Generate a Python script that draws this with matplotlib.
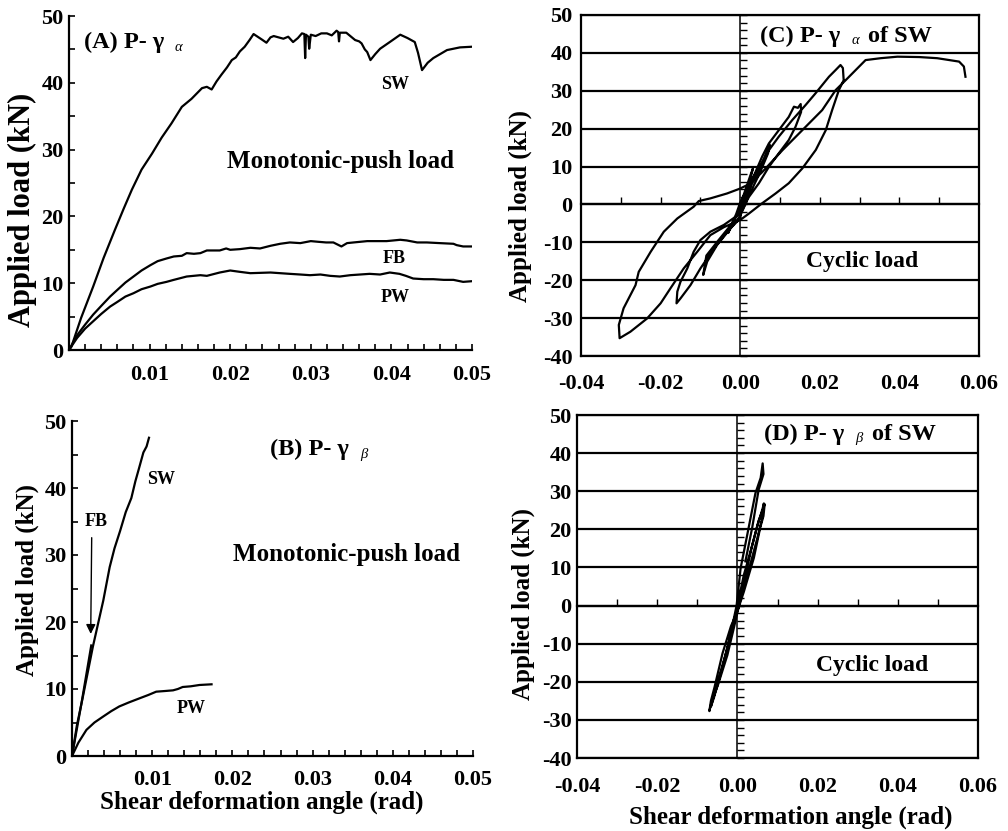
import matplotlib
matplotlib.use('Agg')
import matplotlib.pyplot as plt
from matplotlib.ticker import MultipleLocator

plt.rcParams['font.family'] = ['Liberation Serif', 'DejaVu Serif']
plt.rcParams['font.weight'] = 'bold'
plt.rcParams['axes.labelweight'] = 'bold'

# ---------------- data ----------------
# Panel A : P - gamma_alpha, monotonic push
a_sw_x = [0, 0.0003, 0.0015, 0.003, 0.0043, 0.0057, 0.0068, 0.0078, 0.009, 0.0103, 0.0115, 0.0127,
          0.014, 0.0152, 0.0165, 0.0171, 0.0177, 0.0183, 0.0189, 0.0196, 0.0202, 0.0207, 0.0212,
          0.0218, 0.0224, 0.0229, 0.0234, 0.0239, 0.0245, 0.025, 0.0254, 0.026, 0.0266, 0.0272,
          0.0278, 0.0284, 0.0289, 0.0292, 0.0293, 0.0294, 0.0297, 0.0298, 0.0300, 0.0306, 0.0313,
          0.032, 0.0326, 0.0332, 0.0334, 0.0335, 0.0336, 0.0344, 0.035, 0.0355, 0.036, 0.0363,
          0.0367, 0.037, 0.0374, 0.038, 0.0386, 0.0398, 0.0411, 0.042, 0.0429, 0.0433, 0.0438,
          0.0445, 0.0452, 0.0469, 0.0485, 0.05]
a_sw_y = [0, 0.5, 4.8, 9.5, 13.8, 18.0, 21.2, 24.0, 27.0, 29.4, 31.8, 33.9,
          36.4, 37.6, 39.2, 39.4, 39.0, 40.2, 41.2, 42.3, 43.4, 43.8, 44.7,
          45.4, 46.4, 47.3, 46.9, 46.5, 46.0, 46.8, 47.0, 46.8, 46.6, 46.9,
          46.1, 46.7, 47.4, 47.3, 43.7, 47.2, 46.9, 45.1, 47.2, 47.0, 47.4,
          47.4, 47.1, 47.8, 47.6, 46.2, 47.5, 47.5, 46.9, 46.4, 46.2, 45.9,
          45.0, 44.6, 43.4, 44.3, 45.1, 46.1, 47.2, 46.7, 46.1, 44.5, 41.9,
          43.0, 43.7, 44.9, 45.3, 45.4]

a_fb_x = [0, 0.001, 0.002, 0.003, 0.004, 0.0051, 0.006, 0.007, 0.008, 0.009, 0.0101, 0.011,
          0.0121, 0.013, 0.014, 0.0146, 0.0155, 0.0163, 0.0171, 0.0187, 0.0195, 0.020, 0.0212,
          0.0225, 0.0237, 0.025, 0.0262, 0.0274, 0.0287, 0.030, 0.0309, 0.0319, 0.0328, 0.0338,
          0.0345, 0.0353, 0.037, 0.0394, 0.0411, 0.0419, 0.0432, 0.0444, 0.046, 0.0477, 0.0481,
          0.0489, 0.05]
a_fb_y = [0, 2.2, 3.8, 5.3, 6.6, 8.0, 9.0, 10.1, 11.0, 11.9, 12.7, 13.3,
          13.7, 14.0, 14.1, 14.5, 14.4, 14.5, 14.9, 14.9, 15.2, 15.0, 15.1,
          15.3, 15.2, 15.6, 15.9, 16.1, 16.0, 16.3, 16.2, 16.1, 16.1, 15.5,
          16.0, 16.1, 16.3, 16.3, 16.5, 16.4, 16.1, 16.1, 16.0, 15.9, 15.7,
          15.5, 15.5]

a_pw_x = [0, 0.001, 0.002, 0.003, 0.004, 0.0051, 0.006, 0.007, 0.008, 0.009, 0.0101, 0.011,
          0.0121, 0.013, 0.0146, 0.0163, 0.0171, 0.0187, 0.020, 0.0212, 0.0225, 0.025, 0.0262,
          0.0274, 0.0287, 0.0299, 0.0312, 0.0324, 0.0336, 0.0349, 0.0361, 0.0373, 0.0386,
          0.0398, 0.041, 0.0418, 0.0427, 0.044, 0.0452, 0.0465, 0.0477, 0.0489, 0.05]
a_pw_y = [0, 1.8, 3.2, 4.3, 5.4, 6.5, 7.2, 8.0, 8.5, 9.1, 9.5, 9.9,
          10.2, 10.5, 11.0, 11.2, 11.1, 11.6, 11.9, 11.7, 11.5, 11.6, 11.5,
          11.4, 11.3, 11.2, 11.3, 11.1, 11.0, 11.2, 11.3, 11.4, 11.3,
          11.6, 11.4, 11.1, 10.7, 10.6, 10.6, 10.5, 10.5, 10.2, 10.3]

# Panel B : P - gamma_beta, monotonic push
b_sw_x = [0, 0.0006, 0.0013, 0.0026, 0.0039, 0.0047, 0.0053, 0.006, 0.0067, 0.0074, 0.0079,
          0.0083, 0.0089, 0.0093, 0.0096]
b_sw_y = [0, 4.5, 8.5, 16.3, 23.2, 28.2, 31.0, 33.6, 36.4, 38.5, 41.0, 42.7, 45.3, 46.2, 47.5]
b_fb_x = [0, 0.0012, 0.0024]
b_fb_y = [0, 8.0, 16.5]
b_pw_x = [0, 0.0008, 0.0018, 0.0028, 0.0039, 0.0049, 0.0059, 0.0071, 0.0084, 0.0095, 0.0105,
          0.0116, 0.0126, 0.0132, 0.0138, 0.0148, 0.0159, 0.0174]
b_pw_y = [0, 2.0, 3.9, 5.0, 5.9, 6.7, 7.4, 8.0, 8.6, 9.1, 9.6, 9.7, 9.8, 10.0, 10.3, 10.4, 10.6, 10.7]

# Panel C : cyclic P - gamma_alpha of SW
c_x = [0, 0.0012, 0.0025, 0.0032, 0.0025, 0.001, -0.0005, -0.002, -0.003, -0.0022, -0.001, 0.0,
       0.0015, 0.0035, 0.0055, 0.0068, 0.0074, 0.0070, 0.005, 0.0025, 0.0, -0.0024, -0.0055,
       -0.0085, -0.0093, -0.0083, -0.0058, -0.0024, 0.0,
       0.0015, 0.003, 0.0055, 0.0072, 0.0097, 0.0122, 0.0135, 0.0145, 0.0152, 0.0153, 0.0139,
       0.0122, 0.0097, 0.0072, 0.0047, 0.0022, 0.0, -0.0041, -0.0075, -0.010, -0.0117, -0.0133,
       -0.015, -0.0158, -0.016, -0.015, -0.0125, -0.010, -0.0066, -0.0033, 0.0,
       0.0005, 0.003, 0.0055, 0.0072, 0.0097, 0.0131, 0.0164, 0.0189, 0.0223, 0.0240, 0.0252,
       0.0258, 0.0260, 0.0248, 0.0231, 0.0215, 0.019, 0.0156, 0.0122, 0.0089, 0.0055, 0.0022, 0.0,
       -0.0041, -0.0075, -0.0108, -0.0142, -0.0175, -0.020, -0.0234, -0.0276, -0.0303,
       -0.0305, -0.0293, -0.0263, -0.0255, -0.0225, -0.0192, -0.0158, -0.0117, -0.0104,
       -0.0075, -0.0033, 0.0,
       0.0025, 0.0055, 0.0106, 0.0156, 0.0206, 0.024, 0.0265, 0.0298, 0.0315, 0.0353,
       0.0395, 0.045, 0.0495, 0.055, 0.0562, 0.0566]
c_y = [0, 3.5, 7.5, 9.5, 6.5, 2.0, -2.0, -5.0, -7.5, -5.5, -2.5, 0.5,
       3.5, 7.5, 11.0, 14.0, 15.8, 13.5, 8.5, 3.0, -1.5, -5.5, -9.5,
       -13.5, -18.6, -15.1, -10.7, -6.3, -3.0,
       0.5, 6.5, 12.6, 16.1, 19.6, 23.1, 25.8, 25.5, 26.5, 24.4, 20.5,
       17.0, 13.5, 9.9, 5.6, 2.0, -2.4, -5.4, -7.2, -9.4, -12.5, -16.9,
       -20.4, -23.0, -26.1, -24.8, -21.3, -16.9, -11.6, -7.2, -3.7,
       0.3, 5.6, 10.8, 14.3, 17.9, 22.3, 26.2, 29.3, 33.7, 35.5, 36.8,
       36.0, 32.8, 30.2, 24.9, 19.6, 14.4, 9.5, 5.6, 2.9, 0.3, -2.4, -4.1,
       -6.0, -8.1, -12.5, -16.9, -22.1, -26.1, -30.1, -33.6, -35.3,
       -31.8, -27.4, -21.3, -17.8, -12.5, -7.2, -3.7, -0.6, 0.9,
       1.6, 2.9, 4.2,
       5.5, 8.5, 14.3, 19.6, 24.9, 30.2, 32.8, 36.3, 38.1, 38.6,
       39.0, 38.9, 38.6, 37.7, 36.4, 33.7]

# Panel D : cyclic P - gamma_beta of SW
d_x = [0, 0.0008, 0.0016, 0.0033, 0.0053, 0.0063, 0.0068, 0.0065, 0.0057, 0.0041, 0.0016, 0.0,
       -0.0016, -0.0037, -0.0057, -0.0066, -0.0070, -0.0062, -0.0049, -0.0025, -0.0008, 0.0005,
       0.0018, 0.0035, 0.005, 0.0063, 0.0066, 0.0062, 0.0048, 0.003, 0.001, -0.001, -0.003,
       -0.005, -0.0066, -0.0058, -0.0042, -0.002, -0.0002, 0.0008, 0.0025, 0.0045, 0.0058,
       0.0063, 0.0065, 0.0053, 0.0037, 0.002]
d_y = [0, 4.0, 8.0, 14.3, 22.3, 25.0, 26.6, 23.5, 20.5, 12.5, 3.6, -1.5,
       -5.4, -12.5, -21.4, -25.0, -27.7, -24.5, -21.0, -13.0, -5.5, 0.5,
       7.0, 15.0, 21.0, 25.5, 26.8, 23.0, 17.0, 10.0, 2.5, -5.0, -13.0,
       -20.5, -26.5, -24.0, -18.0, -9.0, 0.0, 9.8, 18.8, 29.5, 33.5,
       37.3, 34.5, 30.4, 20.5, 11.6]

mono_xticks = [0.01, 0.02, 0.03, 0.04, 0.05]
mono_xlabels = ['0.01', '0.02', '0.03', '0.04', '0.05']
mono_yticks = [0, 10, 20, 30, 40, 50]
cyc_xticks = [-0.04, -0.02, 0.0, 0.02, 0.04, 0.06]
cyc_xlabels = ['-0.04', '-0.02', '0.00', '0.02', '0.04', '0.06']
cyc_yticks = [-40, -30, -20, -10, 0, 10, 20, 30, 40, 50]
cyc_ylabels = ['-40', '-30', '-20', '-10', '0', '10', '20', '30', '40', '50']

# ---------------- figure ----------------
W, H = 1008, 831
fig = plt.figure(figsize=(W / 100, H / 100), dpi=100)


def px_axes(l, t, r, b):
    return fig.add_axes([l / W, 1 - b / H, (r - l) / W, (b - t) / H])


LW = 1.6
TICK_FS = 16


def style_mono(ax, xpad):
    ax.set_xlim(0, 0.05)
    ax.set_ylim(0, 50)
    for s in ['top', 'right']:
        ax.spines[s].set_visible(False)
    for s in ['left', 'bottom']:
        ax.spines[s].set_linewidth(1.6)
    ax.set_xticks(mono_xticks)
    ax.set_xticklabels(mono_xlabels)
    ax.xaxis.set_minor_locator(MultipleLocator(0.002))
    ax.set_yticks(mono_yticks)
    ax.yaxis.set_minor_locator(MultipleLocator(5))
    ax.tick_params(which='both', direction='in', length=4, width=1.2, labelsize=TICK_FS)
    ax.tick_params(axis='x', pad=xpad)
    ax.tick_params(axis='y', pad=4)
    for lab in ax.get_xticklabels() + ax.get_yticklabels():
        lab.set_fontweight('bold')


def style_cyc(ax, xpad, ypad):
    ax.set_xlim(-0.04, 0.06)
    ax.set_ylim(-40, 50)
    for s in ax.spines.values():
        s.set_linewidth(1.6)
    ax.set_xticks(cyc_xticks)
    ax.set_xticklabels(cyc_xlabels)
    ax.set_yticks(cyc_yticks)
    ax.set_yticklabels(cyc_ylabels)
    ax.tick_params(length=0, labelsize=TICK_FS)
    ax.tick_params(axis='x', pad=xpad)
    ax.tick_params(axis='y', pad=ypad)
    ax.yaxis.grid(True, color='black', linewidth=1.6)
    ax.set_axisbelow(True)
    for lab in ax.get_xticklabels() + ax.get_yticklabels():
        lab.set_fontweight('bold')
    # cross axes through the origin, with their own ticks
    secy = ax.secondary_yaxis(0, transform=ax.transData)
    secy.set_yticks(list(range(-40, 51, 2)))
    secy.tick_params(direction='in', length=5, width=1.0, labelleft=False, labelright=False)
    for s in secy.spines.values():
        s.set_linewidth(1.1)
    secx = ax.secondary_xaxis(0, transform=ax.transData)
    secx.set_xticks([-0.03, -0.02, -0.01, 0.01, 0.02, 0.03, 0.04, 0.05])
    secx.tick_params(direction='in', length=5, width=1.0, labelbottom=False, labeltop=False)
    for s in secx.spines.values():
        s.set_linewidth(1.6)


def title_with_sub(ax, x, y, main, sub, tail=None, fs=17.5):
    t = ax.text(x, y, main, fontsize=fs, fontweight='bold', va='center', ha='left')
    s = ax.annotate(sub, xy=(1, 0), xycoords=t, xytext=(8, 2), textcoords='offset points',
                    fontsize=10.5, fontstyle='italic', fontweight='normal',
                    va='baseline', ha='left')
    if tail is not None:
        ax.annotate(tail, xy=(1, 0), xycoords=s, xytext=(7, 0), textcoords='offset points',
                    fontsize=fs, fontweight='bold', va='bottom', ha='left')


# ---- Panel A ----
axA = px_axes(69, 16, 472, 350)
axA.plot(a_sw_x, a_sw_y, color='black', lw=LW)
axA.plot(a_fb_x, a_fb_y, color='black', lw=LW)
axA.plot(a_pw_x, a_pw_y, color='black', lw=LW)
style_mono(axA, xpad=11)
title_with_sub(axA, 0.0018, 46.0, '(A) P- γ', 'α')
axA.text(0.0196, 28.2, 'Monotonic-push load', fontsize=18, va='center', ha='left')
axA.text(0.0387, 39.7, 'SW', fontsize=13, va='center', ha='left')
axA.text(0.0389, 13.7, 'FB', fontsize=13, va='center', ha='left')
axA.text(0.0387, 7.8, 'PW', fontsize=13, va='center', ha='left')
fig.text(22 / W, 1 - 210 / H, 'Applied load (kN)', rotation=90, fontsize=22,
         ha='center', va='center', fontweight='bold')

# ---- Panel B ----
axB = px_axes(72, 421, 473, 756)
axB.plot(b_sw_x, b_sw_y, color='black', lw=LW)
axB.plot(b_fb_x, b_fb_y, color='black', lw=LW)
axB.plot(b_pw_x, b_pw_y, color='black', lw=LW)
style_mono(axB, xpad=10)
title_with_sub(axB, 0.0247, 45.7, '(B) P- γ', 'β')
axB.text(0.0201, 30.0, 'Monotonic-push load', fontsize=18, va='center', ha='left')
axB.text(0.0093, 41.2, 'SW', fontsize=13, va='center', ha='left')
axB.text(0.00162, 35.0, 'FB', fontsize=13, va='center', ha='left')
axB.text(0.01305, 7.1, 'PW', fontsize=13, va='center', ha='left')
axB.annotate('', xy=(0.00233, 17.8), xytext=(0.00246, 33.0),
             arrowprops=dict(arrowstyle='-|>', color='black', lw=1.0, mutation_scale=14))
fig.text(27 / W, 1 - 580 / H, 'Applied load (kN)', rotation=90, fontsize=18,
         ha='center', va='center', fontweight='bold')
fig.text(262 / W, 1 - 802 / H, 'Shear deformation angle (rad)', fontsize=18,
         ha='center', va='center', fontweight='bold')

# ---- Panel C ----
axC = px_axes(581, 15, 979, 356)
style_cyc(axC, xpad=13, ypad=6)
axC.plot(c_x, c_y, color='black', lw=LW, zorder=3)
title_with_sub(axC, 0.0049, 44.4, '(C) P- γ', 'α', tail='of SW')
axC.text(0.0166, -15.1, 'Cyclic load', fontsize=17, va='center', ha='left')
fig.text(520 / W, 1 - 206 / H, 'Applied load (kN)', rotation=90, fontsize=18,
         ha='center', va='center', fontweight='bold')

# ---- Panel D ----
axD = px_axes(577, 415, 978, 758)
style_cyc(axD, xpad=14, ypad=4)
axD.plot(d_x, d_y, color='black', lw=LW, zorder=3)
title_with_sub(axD, 0.0066, 45.0, '(D) P- γ', 'β', tail='of SW')
axD.text(0.0195, -15.6, 'Cyclic load', fontsize=17, va='center', ha='left')
fig.text(523 / W, 1 - 604 / H, 'Applied load (kN)', rotation=90, fontsize=18,
         ha='center', va='center', fontweight='bold')
fig.text(791 / W, 1 - 817 / H, 'Shear deformation angle (rad)', fontsize=18,
         ha='center', va='center', fontweight='bold')

fig.savefig('out.png', dpi=100)
